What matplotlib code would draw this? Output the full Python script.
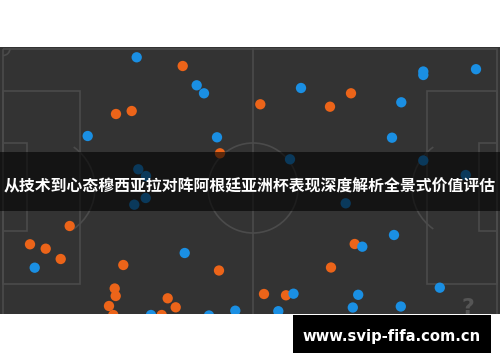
import matplotlib
matplotlib.use("Agg")
import matplotlib.pyplot as plt
from matplotlib.patches import Rectangle, Arc

plt.rcParams['font.family'] = ['Noto Sans CJK SC', 'DejaVu Sans']

title = "从技术到心态穆西亚拉对阵阿根廷亚洲杯表现深度解析全景式价值评估"
url = "www.svip-fifa.com.cn"

# Player positions (image-space coordinates)
orange_x = [182.7, 116, 131.7, 220, 69.7, 30, 45.7, 60.7, 123.3, 219, 114.7, 115.7, 109,
            167.7, 175.7, 113.3, 161.7, 264, 286, 260.3, 330, 351, 354.7, 331]
orange_y = [66, 114, 111, 153.3, 226, 244.3, 248.7, 259, 265, 270.5, 288.5, 296, 306,
            298.3, 307.3, 315, 315, 294, 295.3, 104.3, 106.7, 93.3, 244, 267.5]
blue_x = [136.7, 196.7, 204, 87.7, 217, 138.3, 146, 145.7, 134.3, 34.7, 184.7, 235.3, 151,
          209, 293.5, 278.3, 301, 401.3, 423.3, 423.3, 476, 392, 290, 423.3, 465.7, 345.7,
          394, 362.3, 358.2, 352.8, 400.8, 439.8]
blue_y = [57.3, 85.3, 93.3, 136, 137.3, 169.3, 176, 198, 204.7, 267.7, 253, 310.7, 315,
          315.5, 293.7, 311.2, 88, 102.3, 71.5, 75, 69.2, 137.7, 159.3, 160.5, 175, 203.3,
          235, 246.7, 294.8, 307.5, 306.5, 287.7]

W, H = 500, 362
fig = plt.figure(figsize=(W / 100, H / 100), dpi=100)
ax = fig.add_axes([0, 0, 1, 1])
ax.set_xlim(0, W)
ax.set_ylim(H, 0)
ax.axis('off')
fig.patch.set_facecolor('white')

pitch_top, pitch_bot = 47, 314
pitch = Rectangle((0, pitch_top), W, pitch_bot - pitch_top, facecolor='#333333',
                  edgecolor='none', zorder=1)
ax.add_patch(pitch)

lc = '#4b4b4b'
lw = 1.2
def line_patch(p):
    ax.add_patch(p)
    p.set_clip_path(pitch)

# outer boundary
line_patch(Rectangle((3, 48.5), 494, 330, fill=False, edgecolor=lc, lw=lw, zorder=2))
# halfway line
hl, = ax.plot([253, 253], [48.5, pitch_bot], color=lc, lw=lw, zorder=2)
hl.set_clip_path(pitch)
# centre circle
line_patch(Arc((253, 188), 90, 90, color=lc, lw=lw, zorder=2))
# penalty boxes
line_patch(Rectangle((3, 91), 77, 193, fill=False, edgecolor=lc, lw=lw, zorder=2))
line_patch(Rectangle((427, 91), 70, 193, fill=False, edgecolor=lc, lw=lw, zorder=2))
# goal areas
line_patch(Rectangle((3, 143), 24, 88, fill=False, edgecolor=lc, lw=lw, zorder=2))
line_patch(Rectangle((479, 143), 18, 88, fill=False, edgecolor=lc, lw=lw, zorder=2))
# penalty arcs
line_patch(Arc((45, 188), 100, 100, theta1=-55, theta2=55, color=lc, lw=lw, zorder=2))
line_patch(Arc((462, 188), 100, 100, theta1=125, theta2=235, color=lc, lw=lw, zorder=2))
# corner arc
line_patch(Arc((3, 48.5), 14, 14, theta1=0, theta2=90, color=lc, lw=lw, zorder=2))

so = ax.scatter(orange_x, orange_y, s=55, color='#ec6419', edgecolors='none', zorder=3)
sb = ax.scatter(blue_x, blue_y, s=55, color='#1a8fe3', edgecolors='none', zorder=4)
so.set_clip_path(pitch)
sb.set_clip_path(pitch)

# watermark icon
wm = ax.text(468, 308, "?", color='#555555', fontsize=16, fontweight='bold',
             ha='center', va='center', family='DejaVu Sans', zorder=4)
wm.set_clip_path(pitch)

# banner
ax.add_patch(Rectangle((0, 152.3), W, 58.4, facecolor='black', alpha=0.6,
                       edgecolor='none', zorder=5))
ax.text(250, 186, title, color='white', fontsize=11.4, fontweight='bold',
        ha='center', va='center', zorder=6)

# url box
ax.add_patch(Rectangle((293, 315), 198, 38, facecolor='black', edgecolor='none', zorder=5))
ax.text(391.5, 336.5, url, color='white', fontsize=10.6, fontweight='bold',
        ha='center', va='center', family='DejaVu Sans', zorder=6)

fig.savefig('out.png', dpi=100, facecolor='white')
